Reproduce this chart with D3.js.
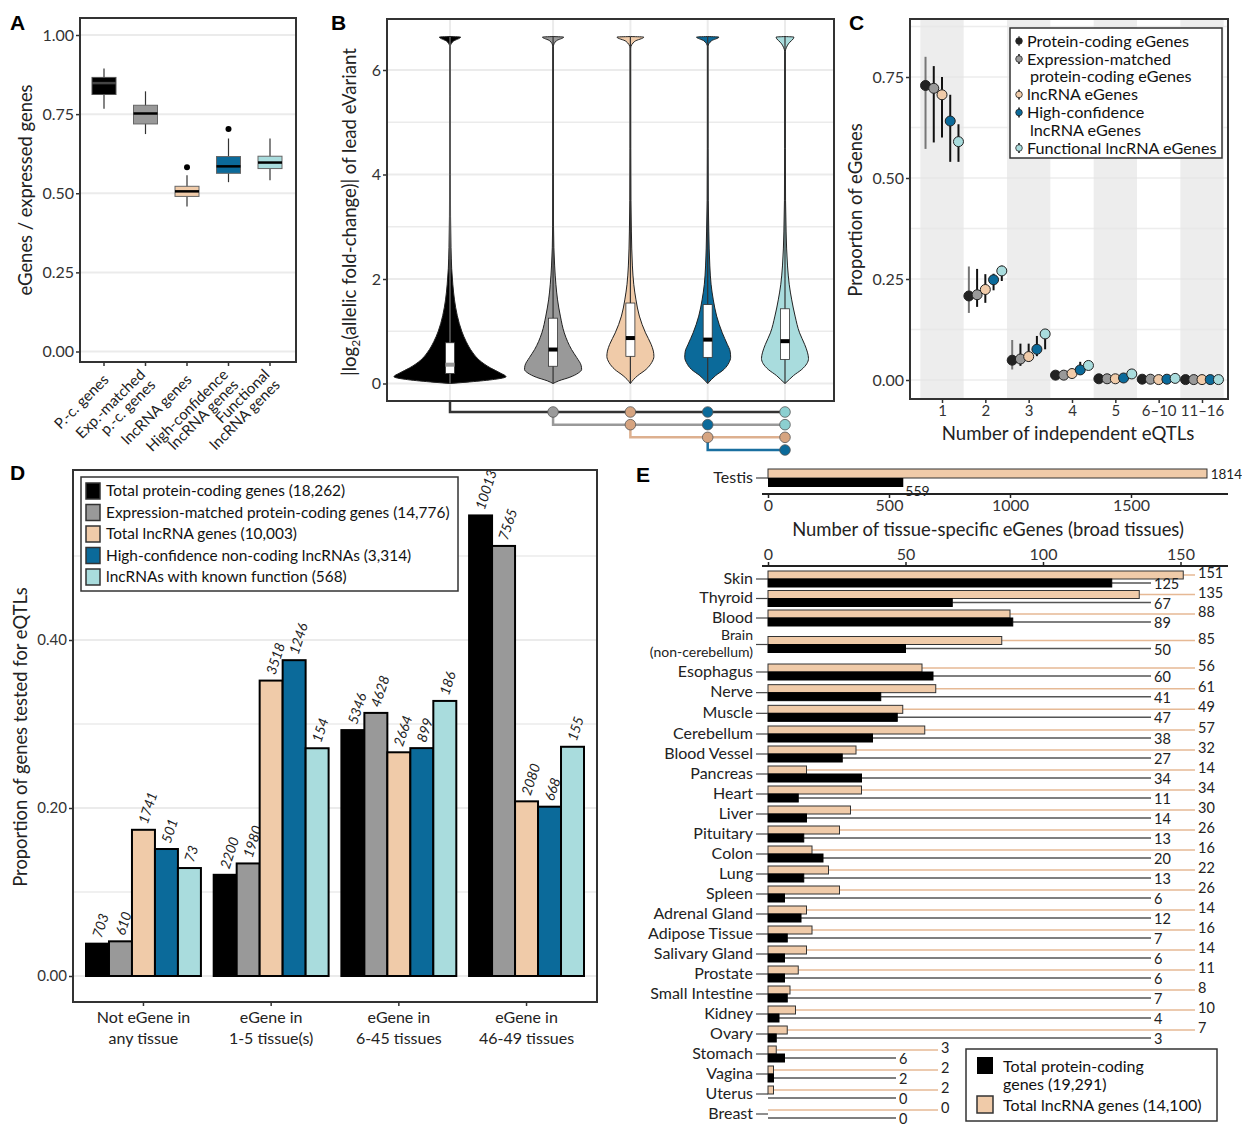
<!DOCTYPE html>
<html>
<head>
<meta charset="utf-8">
<script src="https://cdn.jsdelivr.net/npm/d3@7"></script>
<style>
  body { margin: 0; background: #fff; }
  svg { font-family: "Lato", "Open Sans", sans-serif; }
  .tick text { fill: #333; }
</style>
</head>
<body>
<div class="container"></div>
<script>
// ---------- data ----------
// A: eGenes / expressed genes per tissue, box summaries [lowWhisker, q1, median, q3, highWhisker]
var aGroups = ["P.-c. genes", "Exp.-matched\np.-c. genes", "lncRNA genes", "High-confidence\nlncRNA genes", "Functional\nlncRNA genes"];
var aBoxes = [
  [0.767, 0.812, 0.848, 0.866, 0.894],
  [0.687, 0.719, 0.752, 0.778, 0.822],
  [0.458, 0.490, 0.506, 0.522, 0.557],
  [0.535, 0.563, 0.585, 0.616, 0.673],
  [0.541, 0.578, 0.597, 0.617, 0.673]
];
var aOutliers = [[], [], [0.582], [0.703], []];

// B: |log2 aFC| violins, density profile [value, relative width] and box [q1, median, q3]
var bMax = 6.63;
var bDensity = [
  [[0,0],[0.03,0.35],[0.08,0.8],[0.13,1],[0.2,0.9],[0.3,0.72],[0.45,0.52],[0.6,0.4],[0.8,0.29],[1,0.21],[1.3,0.13],[1.6,0.08],[1.9,0.05],[2.2,0.03],[2.6,0.018],[3.2,0.01],[4,0.007],[5.5,0.006],[6.45,0.006],[6.55,0.06],[6.63,0.19],[6.64,0]],
  [[0,0],[0.05,0.1],[0.12,0.3],[0.2,0.45],[0.27,0.51],[0.35,0.5],[0.5,0.42],[0.65,0.33],[0.8,0.26],[0.97,0.2],[1.29,0.13],[1.6,0.08],[1.9,0.05],[2.25,0.028],[2.6,0.014],[3,0.008],[4,0.006],[6.45,0.005],[6.56,0.06],[6.63,0.19],[6.64,0]],
  [[0,0],[0.08,0.06],[0.15,0.13],[0.27,0.28],[0.4,0.38],[0.52,0.42],[0.62,0.41],[0.75,0.37],[0.97,0.27],[1.29,0.16],[1.6,0.1],[1.9,0.06],[2.25,0.036],[2.9,0.018],[3.5,0.01],[4.5,0.007],[6.42,0.006],[6.55,0.08],[6.63,0.24],[6.64,0]],
  [[0,0],[0.08,0.07],[0.15,0.14],[0.27,0.29],[0.4,0.38],[0.5,0.41],[0.62,0.4],[0.75,0.35],[0.97,0.26],[1.29,0.16],[1.6,0.1],[1.9,0.06],[2.25,0.038],[2.9,0.02],[3.5,0.01],[4.5,0.007],[6.45,0.006],[6.56,0.07],[6.63,0.2],[6.64,0]],
  [[0,0],[0.08,0.08],[0.15,0.15],[0.27,0.3],[0.38,0.39],[0.48,0.42],[0.6,0.4],[0.75,0.35],[0.97,0.26],[1.29,0.18],[1.6,0.12],[1.9,0.075],[2.25,0.045],[2.9,0.02],[3.5,0.01],[4.5,0.007],[6.35,0.006],[6.5,0.06],[6.63,0.16],[6.64,0]]
];
var bQuartiles = [[0.19,0.36,0.78],[0.33,0.65,1.25],[0.52,0.87,1.54],[0.5,0.84,1.51],[0.46,0.81,1.43]];
// significance rows: [from group, to groups]
var bBrackets = [[0,[1,2,3,4]],[1,[2,3,4]],[2,[3,4]],[3,[4]]];

// C: proportion of eGenes by number of independent eQTLs
var cCategories = ["1", "2", "3", "4", "5", "6\u201310", "11\u201316"];
var cSeries = ["Protein-coding eGenes", "Expression-matched\nprotein-coding eGenes", "lncRNA eGenes", "High-confidence\nlncRNA eGenes", "Functional lncRNA eGenes"];
var cProportion = [
  [0.729,0.208,0.049,0.012,0.003,0.002,0.001],
  [0.722,0.211,0.052,0.012,0.003,0.002,0.001],
  [0.706,0.224,0.058,0.016,0.003,0.001,0.001],
  [0.641,0.248,0.076,0.025,0.005,0.002,0.001],
  [0.590,0.270,0.114,0.036,0.015,0.004,0.001]
];
var cLow = [
  [0.572,0.166,0.026,0.004,0,0,0],
  [0.588,0.181,0.035,0.006,0.001,0,0],
  [0.600,0.191,0.045,0.008,0.001,0,0],
  [0.540,0.222,0.059,0.016,0.002,0,0],
  [0.540,0.245,0.076,0.030,0.010,0.002,0]
];
var cHigh = [
  [0.800,0.281,0.099,0.020,0.006,0.004,0.002],
  [0.777,0.275,0.090,0.020,0.006,0.004,0.002],
  [0.750,0.262,0.090,0.022,0.006,0.003,0.002],
  [0.706,0.263,0.109,0.045,0.010,0.006,0.003],
  [0.633,0.283,0.125,0.045,0.020,0.008,0.003]
];

// D: genes tested for eQTLs, by number of tissues where eGene
var dGroups = ["Not eGene in\nany tissue", "eGene in\n1-5 tissue(s)", "eGene in\n6-45 tissues", "eGene in\n46-49 tissues"];
var dSeries = ["Total protein-coding genes (18,262)", "Expression-matched protein-coding genes (14,776)", "Total lncRNA genes (10,003)", "High-confidence non-coding lncRNAs (3,314)", "lncRNAs with known function (568)"];
var dTotals = [18262, 14776, 10003, 3314, 568];
var dCounts = [
  [703, 2200, 5346, 10013],
  [610, 1980, 4628, 7565],
  [1741, 3518, 2664, 2080],
  [501, 1246, 899, 668],
  [73, 154, 186, 155]
];

// E: tissue-specific eGenes
var eTestis = {lnc: 1814, pc: 559};
var eTissues = ["Skin","Thyroid","Blood","Brain\n(non-cerebellum)","Esophagus","Nerve","Muscle","Cerebellum","Blood Vessel","Pancreas","Heart","Liver","Pituitary","Colon","Lung","Spleen","Adrenal Gland","Adipose Tissue","Salivary Gland","Prostate","Small Intestine","Kidney","Ovary","Stomach","Vagina","Uterus","Breast"];
var eLncRNA = [151,135,88,85,56,61,49,57,32,14,34,30,26,16,22,26,14,16,14,11,8,10,7,3,2,2,0];
var eProteinCoding = [125,67,89,50,60,41,47,38,27,34,11,14,13,20,13,6,12,7,6,6,7,4,3,6,2,0,0];
var eLegend = ["Total protein-coding\ngenes (19,291)", "Total lncRNA genes (14,100)"];

// ---------- style ----------
var COLORS = ["#000000", "#999999", "#f0cba9", "#0b6a9a", "#a9dcdd"];
var DOTS = ["#000000", "#9a9a9a", "#d6a480", "#0b6a9a", "#8ccfd0"];
var GRID = "#ebebeb", FRAME = "#333";

var svg = d3.select(".container").append("svg")
  .attr("width", 1242).attr("height", 1126);

function translate(x, y) { return "translate(" + x + "," + y + ")"; }

function letter(t, x, y) {
  svg.append("text").attr("x", x).attr("y", y).text(t)
    .style("font-family", "'Liberation Sans', Arial, sans-serif")
    .style("font-weight", "bold").style("font-size", "21px");
}

function frame(x0, y0, x1, y1) {
  svg.append("rect").attr("x", x0).attr("y", y0).attr("width", x1 - x0).attr("height", y1 - y0)
    .attr("fill", "none").attr("stroke", FRAME).attr("stroke-width", 2);
}

function yAxisLeft(scale, x, ticks, fmt, size) {
  var g = svg.append("g").attr("transform", translate(x, 0))
    .call(d3.axisLeft(scale).tickValues(ticks).tickFormat(fmt).tickSize(4).tickPadding(2));
  g.select(".domain").remove();
  g.selectAll(".tick line").attr("stroke", FRAME).attr("stroke-width", 1.5);
  g.selectAll(".tick text").style("font-size", size || "16px").style("font-family", "Lato");
  return g;
}

function vLabel(t, x, y, size) {
  return svg.append("text").attr("transform", translate(x, y) + " rotate(-90)")
    .attr("text-anchor", "middle").style("font-size", size || "18.4px").attr("fill", "#222").text(t);
}

// ================= Panel A =================
(function() {
  var L = 80, R = 296, T = 18, B = 362;
  var y = d3.scaleLinear().domain([0, 1]).range([351.5, 35]);
  var x = d3.scalePoint().domain(d3.range(aGroups.length)).range([104, 270]);
  [0, 0.25, 0.5, 0.75, 1].forEach(function(v) {
    svg.append("line").attr("x1", L).attr("x2", R).attr("y1", y(v)).attr("y2", y(v))
      .attr("stroke", GRID).attr("stroke-width", 2);
  });
  var bw = 24;
  aBoxes.forEach(function(b, i) {
    var cx = x(i);
    svg.append("line").attr("x1", cx).attr("x2", cx).attr("y1", y(b[0])).attr("y2", y(b[4]))
      .attr("stroke", "#333").attr("stroke-width", 1.2);
    svg.append("rect").attr("x", cx - bw / 2).attr("y", y(b[3])).attr("width", bw).attr("height", y(b[1]) - y(b[3]))
      .attr("fill", COLORS[i]).attr("stroke", i === 0 ? "#555" : "#666").attr("stroke-width", 1);
    svg.append("line").attr("x1", cx - bw / 2).attr("x2", cx + bw / 2).attr("y1", y(b[2])).attr("y2", y(b[2]))
      .attr("stroke", i === 0 ? "#444" : "#000").attr("stroke-width", 2.5);
    aOutliers[i].forEach(function(o) {
      svg.append("circle").attr("cx", cx).attr("cy", y(o)).attr("r", 3).attr("fill", "#000");
    });
  });
  frame(L, T, R, B);
  yAxisLeft(y, L, [0, 0.25, 0.5, 0.75, 1], d3.format(".2f"));
  aGroups.forEach(function(g, i) {
    var lines = g.split("\n");
    svg.append("line").attr("x1", x(i)).attr("x2", x(i)).attr("y1", B).attr("y2", B + 4)
      .attr("stroke", FRAME).attr("stroke-width", 1.5);
    lines.forEach(function(ln, j) {
      var off = (j - (lines.length - 1) / 2) * 14.5;
      svg.append("text")
        .attr("transform", translate(x(i) + 2 + off * 0.707, 377 + off * 0.707) + " rotate(-45)")
        .attr("text-anchor", "end").attr("dy", "0.35em")
        .style("font-size", "15px").attr("fill", "#222").text(ln);
    });
  });
  vLabel("eGenes / expressed genes", 32, 190);
  letter("A", 10, 30);
})();

// ================= Panel B =================
(function() {
  var L = 387, R = 834, T = 19, B = 401;
  var y = d3.scaleLinear().domain([0, 6]).range([383.5, 70]);
  var slot = [0, 4 / 3, 7 / 3, 10 / 3, 13 / 3];
  var x = d3.scaleLinear().domain([0, 13 / 3]).range([450, 785]);
  var w = d3.scaleLinear().domain([0, 1]).range([0, 56]);
  [0, 1, 2, 3, 4, 5, 6].forEach(function(v) {
    svg.append("line").attr("x1", L).attr("x2", R).attr("y1", y(v)).attr("y2", y(v))
      .attr("stroke", GRID).attr("stroke-width", v % 2 ? 1.5 : 2);
  });
  slot.forEach(function(s) {
    svg.append("line").attr("x1", x(s)).attr("x2", x(s)).attr("y1", T).attr("y2", B)
      .attr("stroke", GRID).attr("stroke-width", 2);
  });
  bDensity.forEach(function(dens, i) {
    var cx = x(slot[i]);
    var area = d3.area().curve(d3.curveMonotoneY)
      .y(function(d) { return y(d[0]); })
      .x0(function(d) { return cx - w(d[1]); })
      .x1(function(d) { return cx + w(d[1]); });
    svg.append("path").datum(dens).attr("d", area)
      .attr("fill", COLORS[i]).attr("stroke", "#222").attr("stroke-width", 1);
    svg.append("line").attr("x1", cx).attr("x2", cx).attr("y1", y(0)).attr("y2", y(bMax))
      .attr("stroke", i === 0 ? "#777" : "#333").attr("stroke-width", 1.2);
    var q = bQuartiles[i];
    svg.append("rect").attr("x", cx - 4.5).attr("y", y(q[2])).attr("width", 9).attr("height", y(q[0]) - y(q[2]))
      .attr("fill", "#fff").attr("stroke", "#333").attr("stroke-width", 0.8);
    svg.append("rect").attr("x", cx - 4.5).attr("y", y(q[1]) - 2).attr("width", 9).attr("height", 4)
      .attr("fill", i === 0 ? "#999" : "#000");
  });
  frame(L, T, R, B);
  yAxisLeft(y, L, [0, 2, 4, 6], d3.format("d"));

  var rowY = d3.scalePoint().domain(d3.range(bBrackets.length)).range([412, 450]);
  var lineCol = ["#333", "#999", "#ddb08f", "#1a6fa0"];
  bBrackets.forEach(function(br, r) {
    var x0 = x(slot[br[0]]), yy = rowY(r);
    var top = r === 0 ? B : rowY(r - 1);
    svg.append("path")
      .attr("d", "M" + x0 + "," + top + "V" + yy + "H" + x(slot[br[1][br[1].length - 1]]))
      .attr("fill", "none").attr("stroke", lineCol[r]).attr("stroke-width", 2.5);
  });
  bBrackets.forEach(function(br, r) {
    br[1].forEach(function(t) {
      var c = r < 2 ? DOTS[t] : DOTS[r];
      svg.append("circle").attr("cx", x(slot[t])).attr("cy", rowY(r)).attr("r", 5.3)
        .attr("fill", c).attr("stroke", "#555").attr("stroke-width", 0.8);
    });
  });

  var lab = svg.append("text").attr("transform", translate(356, 212) + " rotate(-90)")
    .attr("text-anchor", "middle").style("font-size", "18.6px").attr("fill", "#222");
  lab.append("tspan").text("|log");
  lab.append("tspan").attr("dy", 4).style("font-size", "12px").text("2");
  lab.append("tspan").attr("dy", -4).text("(allelic fold-change)| of lead eVariant");
  letter("B", 331, 30);
})();

// ================= Panel C =================
(function() {
  var L = 910, R = 1228, T = 19, B = 399;
  var y = d3.scaleLinear().domain([0, 0.75]).range([380, 77]);
  var x = d3.scaleLinear().domain([1, 7]).range([942, 1202]);
  cCategories.forEach(function(c, i) {
    if (i % 2 === 0) {
      svg.append("rect").attr("x", x(i + 0.5)).attr("y", T).attr("width", x(i + 1.5) - x(i + 0.5)).attr("height", B - T)
        .attr("fill", "#ededed");
    }
  });
  d3.range(0, 0.876, 0.125).forEach(function(v) {
    svg.append("line").attr("x1", L).attr("x2", R).attr("y1", y(v)).attr("y2", y(v))
      .attr("stroke", "#e6e6e6").attr("stroke-opacity", 0.7).attr("stroke-width", 1.5);
  });
  var dodge = 0.19;
  cProportion.forEach(function(vals, s) {
    vals.forEach(function(v, i) {
      var cx = x(i + 1 + (s - 2) * dodge);
      svg.append("line").attr("x1", cx).attr("x2", cx).attr("y1", y(cLow[s][i])).attr("y2", y(cHigh[s][i]))
        .attr("stroke", s === 0 ? "#777" : "#111").attr("stroke-width", 2);
    });
  });
  cProportion.forEach(function(vals, s) {
    vals.forEach(function(v, i) {
      svg.append("circle").attr("cx", x(i + 1 + (s - 2) * dodge)).attr("cy", y(v)).attr("r", 5)
        .attr("fill", s === 0 ? "#222" : COLORS[s]).attr("stroke", "#222").attr("stroke-width", 1);
    });
  });
  frame(L, T, R, B);
  yAxisLeft(y, L, [0, 0.25, 0.5, 0.75], d3.format(".2f"));
  var gx = svg.append("g").attr("transform", translate(0, B))
    .call(d3.axisBottom(x).tickValues(d3.range(1, 8)).tickFormat(function(d) { return cCategories[d - 1]; }).tickSize(4).tickPadding(2));
  gx.select(".domain").remove();
  gx.selectAll(".tick line").attr("stroke", FRAME).attr("stroke-width", 1.5);
  gx.selectAll(".tick text").style("font-size", "15px").style("font-family", "Lato");
  svg.append("text").attr("x", 1068).attr("y", 440).attr("text-anchor", "middle")
    .style("font-size", "18.6px").attr("fill", "#222").text("Number of independent eQTLs");
  vLabel("Proportion of eGenes", 862, 210);

  // legend
  svg.append("rect").attr("x", 1010).attr("y", 28).attr("width", 212).attr("height", 130)
    .attr("fill", "#fff").attr("stroke", FRAME).attr("stroke-width", 1.5);
  var ly = 41;
  cSeries.forEach(function(s, i) {
    var lines = s.split("\n");
    svg.append("line").attr("x1", 1019).attr("x2", 1019).attr("y1", ly - 5).attr("y2", ly + 5)
      .attr("stroke", i === 0 ? "#777" : "#111").attr("stroke-width", 1.5);
    svg.append("circle").attr("cx", 1019).attr("cy", ly).attr("r", 3.3)
      .attr("fill", i === 0 ? "#222" : COLORS[i]).attr("stroke", "#222").attr("stroke-width", 0.8);
    lines.forEach(function(ln, j) {
      svg.append("text").attr("x", j ? 1030 : 1027).attr("y", ly + j * 17.5).attr("dy", "0.35em")
        .style("font-size", "16.2px").attr("fill", "#111").text(ln);
    });
    ly += lines.length * 17.5 + 0.5;
  });
  letter("C", 849, 30);
})();

// ================= Panel D =================
(function() {
  var L = 73, R = 597, T = 470, B = 1002;
  var y = d3.scaleLinear().domain([0, 0.4]).range([976, 640]);
  var x = d3.scaleBand().domain(d3.range(dGroups.length)).range([86, 584]).paddingInner(0.1);
  var xs = d3.scaleBand().domain(d3.range(dSeries.length)).range([0, x.bandwidth()]);
  [0, 0.1, 0.2, 0.3, 0.4, 0.5].forEach(function(v) {
    svg.append("line").attr("x1", L).attr("x2", R).attr("y1", y(v)).attr("y2", y(v))
      .attr("stroke", GRID).attr("stroke-width", v * 10 % 2 ? 1.5 : 2);
  });
  dCounts.forEach(function(counts, s) {
    counts.forEach(function(c, g) {
      var p = c / dTotals[s];
      var bx = x(g) + xs(s);
      svg.append("rect").attr("x", bx).attr("y", y(p)).attr("width", xs.bandwidth()).attr("height", y(0) - y(p))
        .attr("fill", COLORS[s]).attr("stroke", "#000").attr("stroke-width", 2);
      svg.append("text").attr("transform", translate(bx + xs.bandwidth() / 2 + 4, y(p) - 5) + " rotate(-72)")
        .style("font-size", "14px").style("font-style", "italic").attr("fill", "#222").text(c);
    });
  });
  frame(L, T, R, B);
  yAxisLeft(y, L, [0, 0.2, 0.4], d3.format(".2f"), "15px");
  dGroups.forEach(function(g, i) {
    var cx = x(i) + x.bandwidth() / 2;
    svg.append("line").attr("x1", cx).attr("x2", cx).attr("y1", B).attr("y2", B + 4)
      .attr("stroke", FRAME).attr("stroke-width", 1.5);
    g.split("\n").forEach(function(ln, j) {
      svg.append("text").attr("x", cx).attr("y", 1023 + j * 20.5).attr("text-anchor", "middle")
        .style("font-size", "16px").attr("fill", "#222").text(ln);
    });
  });
  vLabel("Proportion of genes tested for eQTLs", 27, 737);

  svg.append("rect").attr("x", 81).attr("y", 477).attr("width", 377).attr("height", 114)
    .attr("fill", "#fff").attr("stroke", FRAME).attr("stroke-width", 1.5);
  dSeries.forEach(function(s, i) {
    var cy = 491 + i * 21.5;
    svg.append("rect").attr("x", 86).attr("y", cy - 8).attr("width", 14).attr("height", 16)
      .attr("fill", COLORS[i]).attr("stroke", "#333").attr("stroke-width", 1.5);
    svg.append("text").attr("x", 106).attr("y", cy).attr("dy", "0.35em")
      .style("font-size", "15.4px").attr("fill", "#111").text(s);
  });
  letter("D", 10, 480);
})();

// ================= Panel E =================
(function() {
  var x0 = 768;
  var xt = d3.scaleLinear().domain([0, 500]).range([x0, x0 + 121]);
  var xb = d3.scaleLinear().domain([0, 50]).range([x0, x0 + 137.5]);
  var tanLine = "#e6b995", pcLine = "#555";

  // Testis
  var ty = 478;
  svg.append("rect").attr("x", x0).attr("y", ty - 9).attr("width", xt(eTestis.lnc) - x0).attr("height", 9)
    .attr("fill", COLORS[2]).attr("stroke", "#333").attr("stroke-width", 1);
  svg.append("rect").attr("x", x0).attr("y", ty).attr("width", xt(eTestis.pc) - x0).attr("height", 9)
    .attr("fill", "#000");
  svg.append("text").attr("x", 1242).attr("y", ty - 4).attr("dy", "0.35em").attr("text-anchor", "end")
    .style("font-size", "13.5px").attr("fill", "#222").text(eTestis.lnc);
  svg.append("text").attr("x", xt(eTestis.pc) + 2).attr("y", ty + 13).attr("dy", "0.35em")
    .style("font-size", "14px").attr("fill", "#222").text(eTestis.pc);
  svg.append("line").attr("x1", 756).attr("x2", x0).attr("y1", ty).attr("y2", ty).attr("stroke", "#444").attr("stroke-width", 1.2);
  svg.append("text").attr("x", 753).attr("y", ty).attr("dy", "0.3em").attr("text-anchor", "end")
    .style("font-size", "16px").attr("fill", "#222").text("Testis");

  var gt = svg.append("g").attr("transform", translate(0, 494))
    .call(d3.axisBottom(xt).tickValues([0, 500, 1000, 1500]).tickFormat(d3.format("d")).tickSize(4).tickSizeOuter(0).tickPadding(2));
  gt.select(".domain").attr("d", "M762,0H1228").attr("stroke", "#222").attr("stroke-width", 2);
  gt.selectAll(".tick line").attr("stroke", "#222").attr("stroke-width", 1.5);
  gt.selectAll(".tick text").style("font-size", "16px").style("font-family", "Lato");
  svg.append("text").attr("x", 988).attr("y", 536).attr("text-anchor", "middle")
    .style("font-size", "18.4px").attr("fill", "#222").text("Number of tissue-specific eGenes (broad tissues)");

  var gb = svg.append("g").attr("transform", translate(0, 566))
    .call(d3.axisTop(xb).tickValues([0, 50, 100, 150]).tickSize(4).tickSizeOuter(0).tickPadding(2));
  gb.select(".domain").attr("d", "M762,0H1228").attr("stroke", "#222").attr("stroke-width", 2);
  gb.selectAll(".tick line").attr("stroke", "#222").attr("stroke-width", 1.5);
  gb.selectAll(".tick text").style("font-size", "16px").style("font-family", "Lato");

  var y = d3.scaleLinear().domain([0, 2, 3, 4, 7, eTissues.length - 1]).range([579, 618, 644.5, 672, 734, 1114]);
  var nShort = 4;
  eTissues.forEach(function(t, i) {
    var cy = y(i);
    var short = i >= eTissues.length - nShort;
    var tanEnd = short ? 938 : 1195, pcEnd = short ? 896 : 1151;
    var xl = xb(eLncRNA[i]), xp = xb(eProteinCoding[i]);
    svg.append("line").attr("x1", xl).attr("x2", tanEnd).attr("y1", cy - 4).attr("y2", cy - 4)
      .attr("stroke", tanLine).attr("stroke-width", 1.5);
    svg.append("line").attr("x1", xp).attr("x2", pcEnd).attr("y1", cy + 4).attr("y2", cy + 4)
      .attr("stroke", pcLine).attr("stroke-width", 1.5);
    svg.append("rect").attr("x", x0).attr("y", cy - 8).attr("width", xl - x0).attr("height", 8)
      .attr("fill", COLORS[2]).attr("stroke", "#333").attr("stroke-width", 1);
    svg.append("rect").attr("x", x0).attr("y", cy).attr("width", xp - x0).attr("height", 8)
      .attr("fill", "#000").attr("stroke", "#000").attr("stroke-width", 1);
    svg.append("text").attr("x", tanEnd + 3).attr("y", cy - 6).attr("dy", "0.35em")
      .style("font-size", "14.5px").attr("fill", "#222").text(eLncRNA[i]);
    svg.append("text").attr("x", pcEnd + 3).attr("y", cy + 5).attr("dy", "0.35em")
      .style("font-size", "14.5px").attr("fill", "#222").text(eProteinCoding[i]);
    svg.append("line").attr("x1", 756).attr("x2", x0).attr("y1", cy).attr("y2", cy).attr("stroke", "#444").attr("stroke-width", 1.2);
    var lines = t.split("\n");
    var fs = lines.length > 1 ? 14 : 16;
    var lab = svg.append("text").attr("text-anchor", "end").style("font-size", fs + "px").attr("fill", "#222");
    lines.forEach(function(ln, j) {
      lab.append("tspan").attr("x", 753).attr("y", cy + (j - (lines.length - 1) / 2) * 17).attr("dy", "0.3em").text(ln);
    });
  });

  // legend
  svg.append("rect").attr("x", 966).attr("y", 1049).attr("width", 251).attr("height", 72)
    .attr("fill", "#fff").attr("stroke", FRAME).attr("stroke-width", 1.5);
  svg.append("rect").attr("x", 977).attr("y", 1057).attr("width", 16).attr("height", 17).attr("fill", "#000");
  svg.append("rect").attr("x", 977).attr("y", 1096).attr("width", 16).attr("height", 17)
    .attr("fill", COLORS[2]).attr("stroke", "#333").attr("stroke-width", 1.5);
  eLegend[0].split("\n").forEach(function(ln, j) {
    svg.append("text").attr("x", 1003).attr("y", 1066 + j * 18).attr("dy", "0.35em")
      .style("font-size", "16px").attr("fill", "#111").text(ln);
  });
  svg.append("text").attr("x", 1003).attr("y", 1105).attr("dy", "0.35em")
    .style("font-size", "16px").attr("fill", "#111").text(eLegend[1]);
  letter("E", 636, 482);
})();
</script>
</body>
</html>
